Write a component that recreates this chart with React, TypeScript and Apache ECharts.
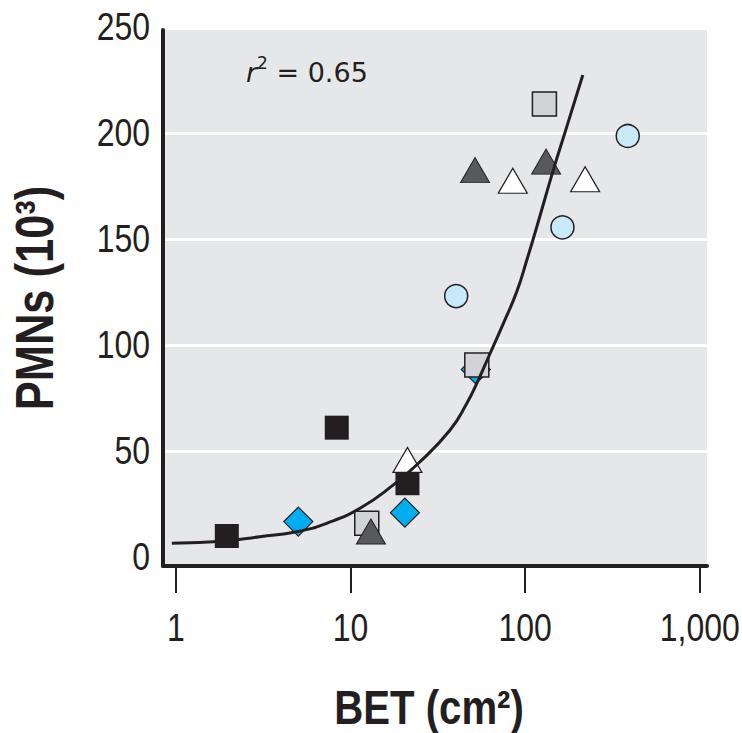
import React, { useEffect, useRef } from 'react';
import * as echarts from 'echarts';

// ---- data ----
const xTicks = [1, 10, 100, 1000];
const yLabels = [0, 50, 100, 150, 200, 250];
const yGridLines = [50, 100, 150, 200];
const xTitle = 'BET (cm²)';
const yTitle = 'PMNs (10³)';

const blackSquares = [[1.96, 9.9], [8.35, 61], [21.2, 34.8]];
const blueDiamonds = [[5.03, 16.7], [20.5, 20.9], [52.2, 88.5]];
const graySquares = [[12.4, 15.9], [52.9, 90.6], [129, 213.7]];
const darkTriangles = [[13.1, 12], [51.7, 182.5], [131.9, 186.5]];
const whiteTriangles = [[21.2, 45.8], [85, 177.5], [220.6, 178.2]];
const blueCircles = [[40.3, 123.1], [163.6, 155.5], [387, 198.6]];

const fitCurve = [
  [0.95, 6.5], [1.96, 7.6], [3.03, 9.6], [4.92, 11.9], [7.31, 15.9],
  [11.35, 23], [17.6, 34], [24.5, 44.2], [37.2, 59.9], [46.4, 72.5],
  [52.9, 81.9], [63, 96], [75.1, 110.2], [89.7, 125.3], [102.3, 140.1],
  [116.7, 155.8], [145, 182.5], [173.3, 203], [214, 227.4],
];

const X_MIN = 0.845;
const X_MAX = 1100;
const Y_MIN = -4.25;
const Y_MAX = 248.6;

const INK = '#231f20';
const SANS = "'Liberation Sans', Arial, Helvetica, sans-serif";
const NARROW = 0.82; // Arial -> Arial Narrow width ratio

function scatter(name: string, data: number[][], symbol: string, size: any, color: string, border: number) {
  return {
    name,
    type: 'scatter',
    data,
    symbol,
    symbolSize: size,
    itemStyle: { color, borderColor: INK, borderWidth: border, opacity: 1 },
    emphasis: { disabled: true },
  };
}

function narrowText(text: string, x: number, y: number, fontSize: number, align: string, bold = false, rotation = 0) {
  return {
    type: 'text',
    x,
    y,
    rotation,
    scaleX: NARROW,
    silent: true,
    style: {
      text,
      fontSize,
      fontFamily: SANS,
      fontWeight: bold ? 'bold' : 'normal',
      fill: INK,
      align,
      verticalAlign: 'middle',
      textAlign: align,
      textVerticalAlign: 'middle',
    },
  };
}

export default function App() {
  const ref = useRef<HTMLDivElement>(null);
  useEffect(() => {
    const chart = echarts.init(ref.current!, null, { renderer: 'svg' });
    chart.setOption({
      animation: false,
      backgroundColor: '#ffffff',
      title: {
        text: '{i|r}{s|2}{n| = 0.65}',
        left: 246,
        top: 54,
        padding: 0,
        textStyle: {
          fontWeight: 'normal',
          rich: {
            i: { fontFamily: 'DejaVu Sans', fontSize: 27, fontStyle: 'italic', fontWeight: 'normal', color: INK, lineHeight: 32, verticalAlign: 'bottom' },
            s: { fontFamily: 'DejaVu Sans', fontSize: 17, fontWeight: 'normal', color: INK, lineHeight: 18, verticalAlign: 'top' },
            n: { fontFamily: 'DejaVu Sans', fontSize: 27, fontWeight: 'normal', color: INK, lineHeight: 32, verticalAlign: 'bottom' },
          },
        },
      },
      grid: {
        left: 163,
        right: 35,
        top: 30,
        bottom: 167,
        show: true,
        backgroundColor: '#e6e7e8',
        borderWidth: 0,
      },
      xAxis: {
        type: 'log',
        logBase: 10,
        min: X_MIN,
        max: X_MAX,
        axisLine: { show: true, onZero: false, lineStyle: { color: INK, width: 4 } },
        axisTick: { show: true, customValues: xTicks, length: 27, lineStyle: { color: INK, width: 2 } },
        axisLabel: { show: false },
        splitLine: { show: false },
        minorTick: { show: false },
        minorSplitLine: { show: false },
      },
      yAxis: {
        type: 'value',
        min: Y_MIN,
        max: Y_MAX,
        axisLine: { show: true, onZero: false, lineStyle: { color: INK, width: 4 } },
        axisTick: { show: false, customValues: yGridLines },
        axisLabel: { show: false },
        splitLine: { show: true, lineStyle: { color: '#ffffff', width: 3 } },
      },
      series: [
        scatter('diamonds', blueDiamonds, 'diamond', 29, '#00aeef', 1.2),
        scatter('graySquares', graySquares, 'rect', 24, '#d1d3d4', 1.5),
        scatter('darkTriangles', darkTriangles, 'triangle', [29, 25], '#58595b', 1),
        {
          name: 'fit',
          type: 'line',
          data: fitCurve,
          smooth: 0.5,
          showSymbol: false,
          symbol: 'none',
          lineStyle: { color: INK, width: 3 },
          emphasis: { disabled: true },
        },
        scatter('blackSquares', blackSquares, 'rect', 24, INK, 0),
        scatter('whiteTriangles', whiteTriangles, 'triangle', [29, 25], '#ffffff', 1.2),
        scatter('circles', blueCircles, 'circle', 23, '#c8e9f8', 1.5),
      ],
    });

    // Axis labels and titles, condensed, positioned through the chart's own scales
    const xPix = (v: number) => chart.convertToPixel({ xAxisIndex: 0 }, v) as number;
    const yPix = (v: number) => chart.convertToPixel({ yAxisIndex: 0 }, v) as number;
    const axisY = yPix(Y_MIN);
    const axisX = xPix(X_MIN);
    const graphics: any[] = [];
    xTicks.forEach((t) => {
      graphics.push(narrowText(t.toLocaleString('en-US'), xPix(t), axisY + 62, 39, 'center'));
    });
    yLabels.forEach((v) => {
      graphics.push(narrowText(String(v), axisX - 13, yPix(v), 39, 'right'));
    });
    graphics.push(narrowText(xTitle, (axisX + xPix(X_MAX)) / 2 - 6, axisY + 141, 49, 'center', true));
    graphics.push(narrowText(yTitle, axisX - 129, (yPix(Y_MIN) + yPix(Y_MAX)) / 2, 53, 'center', true, Math.PI / 2));
    chart.setOption({ graphic: graphics });

    return () => chart.dispose();
  }, []);
  return (
    <div
      ref={ref}
      style={{ position: 'absolute', left: 0, top: 0, width: 742, height: 733, background: '#fff' }}
    />
  );
}
